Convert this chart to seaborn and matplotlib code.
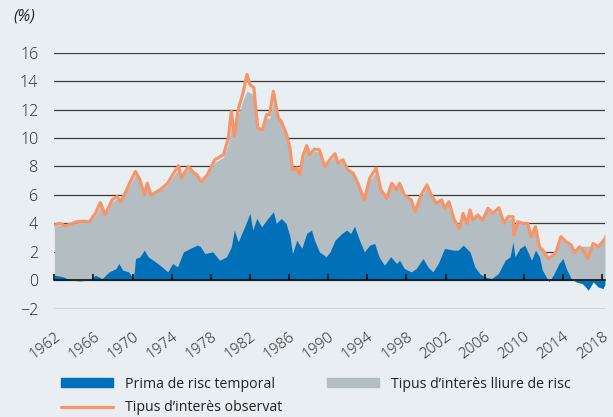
import matplotlib
matplotlib.use('Agg')
import matplotlib.pyplot as plt
import matplotlib.patches as mpatches
from matplotlib.lines import Line2D
import seaborn as sns
import pandas as pd

# observed rate and risk-free rate, same time grid
obs_years = [1962.0, 1962.6, 1963.1, 1963.7, 1964.3, 1965.0, 1965.6, 1966.2, 1966.7, 1967.2,
             1967.9, 1968.4, 1968.8, 1969.3, 1969.7, 1970.3, 1970.75, 1971.2, 1971.5, 1971.9,
             1972.4, 1972.8, 1973.6, 1974.2, 1974.7, 1975.0, 1975.7, 1976.2, 1976.6, 1977.0,
             1977.6, 1978.0, 1978.4, 1979.3, 1979.8, 1980.1, 1980.4, 1980.8, 1981.3, 1981.7,
             1982.0, 1982.4, 1982.8, 1983.3, 1983.7, 1984.0, 1984.4, 1984.9, 1985.2, 1985.7,
             1986.1, 1986.35, 1986.8, 1987.1, 1987.4, 1987.8, 1988.1, 1988.6, 1989.1, 1989.65,
             1990.3, 1990.7, 1991.0, 1991.5, 1992.0, 1992.55, 1993.05, 1993.7, 1994.25, 1994.9,
             1995.4, 1996.0, 1996.5, 1997.0, 1997.3, 1997.8, 1998.5, 1998.9, 1999.5, 2000.1,
             2000.55, 2001.05, 2001.6, 2001.9, 2002.35, 2002.9, 2003.45, 2003.8, 2004.2, 2004.5,
             2004.8, 2005.3, 2005.8, 2006.35, 2006.85, 2007.45, 2008.0, 2008.4, 2008.9, 2009.0,
             2009.4, 2009.9, 2010.4, 2010.75, 2011.2, 2011.6, 2012.1, 2012.5, 2013.0, 2013.3,
             2013.8, 2014.35, 2014.85, 2015.2, 2015.7, 2016.05, 2016.55, 2017.1, 2017.6, 2017.9,
             2018.3]

obs_rate = [3.88, 4.00, 3.83, 3.95, 4.12, 4.15, 4.12, 4.70, 5.46, 4.59,
            5.65, 5.88, 5.53, 6.20, 6.82, 7.65, 7.06, 6.00, 6.82, 6.00,
            6.20, 6.35, 6.82, 7.53, 8.04, 7.18, 8.00, 7.60, 7.40, 6.94,
            7.35, 7.90, 8.47, 8.82, 10.00, 11.88, 10.11, 12.00, 13.18, 14.47,
            13.76, 13.53, 10.70, 10.58, 11.64, 11.64, 13.29, 11.41, 11.18, 10.35,
            9.29, 7.76, 7.90, 7.41, 8.70, 9.46, 8.82, 9.22, 9.17, 8.00,
            8.59, 8.90, 8.23, 8.47, 7.76, 7.53, 6.82, 5.65, 7.18, 7.88,
            6.35, 5.76, 6.82, 6.35, 6.82, 6.00, 5.65, 4.82, 6.00, 6.70,
            6.00, 5.41, 5.65, 5.06, 5.53, 4.23, 3.65, 4.70, 4.00, 4.94,
            4.23, 4.59, 4.23, 5.06, 4.70, 5.10, 4.00, 4.47, 4.47, 3.18,
            4.12, 4.00, 4.00, 3.06, 3.76, 2.35, 2.00, 1.53, 1.76, 2.00,
            3.06, 2.70, 2.47, 1.94, 2.35, 2.12, 1.53, 2.59, 2.35, 2.59,
            2.85]

riskfree_rate = [3.80, 3.90, 3.80, 3.90, 4.05, 4.10, 4.10, 4.55, 5.20, 4.60,
                 5.50, 5.75, 5.50, 6.10, 6.65, 7.40, 7.00, 6.10, 6.60, 6.05,
                 6.15, 6.30, 6.70, 7.35, 7.85, 7.25, 7.80, 7.55, 7.35, 7.00,
                 7.25, 7.75, 8.30, 8.65, 9.60, 10.80, 10.30, 11.60, 12.70, 13.30,
                 13.20, 13.00, 10.80, 10.50, 11.40, 11.40, 12.60, 11.30, 11.00, 10.20,
                 9.20, 7.90, 7.80, 7.45, 8.50, 9.25, 8.75, 9.10, 9.00, 8.05,
                 8.45, 8.75, 8.20, 8.35, 7.70, 7.45, 6.80, 5.80, 7.00, 7.60,
                 6.40, 5.85, 6.65, 6.30, 6.65, 6.00, 5.60, 4.95, 5.85, 6.50,
                 6.00, 5.45, 5.55, 5.10, 5.40, 4.35, 3.85, 4.50, 4.10, 4.75,
                 4.30, 4.50, 4.25, 4.90, 4.65, 4.95, 4.10, 4.35, 4.35, 3.50,
                 4.00, 3.95, 3.90, 3.20, 3.60, 2.50, 2.05, 1.70, 1.80, 2.00,
                 2.90, 2.65, 2.45, 2.10, 2.35, 2.40, 2.40, 2.40, 2.45, 2.80,
                 3.30]

# term premium
tp_years = [1962.0, 1962.5, 1962.9, 1963.6, 1964.6, 1965.6, 1966.2, 1966.9, 1967.6, 1968.3,
            1968.6, 1969.0, 1969.6, 1970.1, 1970.3, 1970.75, 1971.2, 1971.6, 1972.1, 1972.8,
            1973.6, 1974.1, 1974.6, 1975.2, 1975.9, 1976.6, 1976.9, 1977.4, 1978.2, 1978.9,
            1979.6, 1980.1, 1980.4, 1980.8, 1981.1, 1981.6, 1982.0, 1982.3, 1982.7, 1983.2,
            1983.7, 1984.4, 1984.7, 1985.2, 1985.7, 1986.1, 1986.35, 1986.8, 1987.3, 1987.8,
            1988.3, 1988.6, 1989.1, 1989.8, 1990.2, 1990.7, 1991.4, 1991.9, 1992.3, 1992.7,
            1993.2, 1993.7, 1994.25, 1994.75, 1995.2, 1995.75, 1996.4, 1997.0, 1997.3, 1997.8,
            1998.5, 1999.0, 1999.7, 2000.2, 2000.7, 2001.25, 2001.9, 2002.8, 2003.3, 2003.8,
            2004.5, 2005.0, 2005.5, 2006.0, 2006.7, 2007.4, 2008.1, 2008.6, 2008.9, 2009.1,
            2009.6, 2010.1, 2010.5, 2010.8, 2011.2, 2011.6, 2011.9, 2012.3, 2012.6, 2013.1,
            2013.6, 2014.0, 2014.35, 2014.85, 2015.35, 2016.0, 2016.6, 2017.1, 2017.6, 2018.1,
            2018.3]

tp_rate = [0.35, 0.30, 0.24, 0.02, -0.05, 0.02, 0.35, 0.12, 0.59, 0.82,
           1.18, 0.71, 0.59, 0.10, 1.53, 1.65, 2.12, 1.65, 1.41, 1.06,
           0.59, 1.18, 0.94, 2.00, 2.24, 2.47, 2.40, 1.88, 2.00, 1.41,
           1.65, 2.35, 3.53, 2.70, 3.18, 4.00, 4.70, 3.53, 4.35, 3.76,
           4.23, 4.82, 4.00, 4.35, 4.00, 3.06, 1.88, 2.82, 2.24, 3.29,
           3.53, 2.82, 2.00, 1.65, 2.00, 2.82, 3.29, 3.53, 3.29, 3.80,
           2.82, 2.00, 2.47, 2.59, 1.65, 1.06, 1.65, 1.18, 1.41, 0.82,
           0.59, 0.82, 1.53, 0.94, 0.59, 1.18, 2.24, 2.12, 2.12, 2.47,
           2.00, 0.94, 0.47, 0.24, 0.12, 0.47, 1.41, 1.65, 2.70, 1.65,
           2.24, 2.47, 1.88, 1.41, 2.12, 1.65, 0.71, 0.24, -0.10, 0.47,
           1.18, 1.53, 0.82, 0.12, -0.12, -0.24, -0.70, -0.12, -0.47, -0.59,
           -0.30]

tick_years = list(range(1962, 2019, 4))
y_ticks = list(range(-2, 17, 2))

label_tp = 'Prima de risc temporal'
label_rf = 'Tipus d\u2019interès lliure de risc'
label_obs = 'Tipus d\u2019interès observat'

BG = '#e9eef2'
BLUE = '#0071b9'
GREY = '#b4bec2'
ORANGE = '#f4966a'
TXT = '#222222'

sns.set_theme(style='white', rc={'axes.facecolor': BG, 'figure.facecolor': BG})
plt.rcParams['font.family'] = ['Open Sans', 'DejaVu Sans']

df_obs = pd.DataFrame({'year': obs_years, 'obs': obs_rate, 'rf': riskfree_rate})
df_tp = pd.DataFrame({'year': tp_years, 'tp': tp_rate})

fig = plt.figure(figsize=(6.13, 4.17), dpi=100)
ax = fig.add_axes([0.0886, 0.2597, 0.8984, 0.6139])

ax.fill_between(df_obs['year'], 0, df_obs['rf'], color=GREY, lw=0, zorder=1)
ax.fill_between(df_tp['year'], 0, df_tp['tp'], color=BLUE, lw=0, zorder=1.5)
sns.lineplot(data=df_obs, x='year', y='obs', color=ORANGE, lw=2.3, ax=ax, zorder=3)

ax.set_xlim(1962, 2018.31)
ax.set_ylim(-2, 16)
ax.set_yticks(y_ticks)
ax.set_xticks(tick_years)
ax.set_xlabel('')
ax.set_ylabel('')

# grid behind the areas, but the zero axis with its ticks on top
ax.set_axisbelow(True)
ax.xaxis.set_zorder(4)
ax.grid(axis='y', color='#3a3a3a', lw=0.9)
for s in ['top', 'right', 'left']:
    ax.spines[s].set_visible(False)
ax.spines['bottom'].set_position(('data', 0))
ax.spines['bottom'].set_color('#111111')
ax.spines['bottom'].set_linewidth(1.2)
ax.spines['bottom'].set_zorder(4)
ax.tick_params(axis='x', direction='in', length=4, width=1.2, color='#111111',
               pad=35, labelsize=11, labelcolor=TXT, bottom=True)
ax.tick_params(axis='y', length=0, pad=11.5, labelsize=11.5, labelcolor=TXT)

# rotated year labels, anchored at their upper right corner
ax.set_xticklabels([str(y) for y in tick_years])
for lbl in ax.get_xticklabels():
    lbl.set_rotation(37)
    lbl.set_ha('right')
    lbl.set_va('top')
    lbl.set_rotation_mode('anchor')
    lbl.set_fontweight('light')
for lbl in ax.get_yticklabels():
    lbl.set_fontweight('light')

fig.text(0.022, 0.98, '(%)', fontsize=11.5, style='italic', color=TXT, va='top', ha='left')

handles = [mpatches.Patch(color=BLUE, label=label_tp),
           Line2D([0], [0], color=ORANGE, lw=2.3, label=label_obs),
           mpatches.Patch(color=GREY, label=label_rf)]
fig.legend(handles=handles, loc='upper left', bbox_to_anchor=(0.0995, 0.0964), ncol=2,
           frameon=False, fontsize=10.2, labelcolor=TXT, borderpad=0, borderaxespad=0,
           handlelength=3.7, handleheight=0.62, handletextpad=0.85, columnspacing=3.1,
           labelspacing=0.6)

fig.savefig('out.png', dpi=100, facecolor=BG)
